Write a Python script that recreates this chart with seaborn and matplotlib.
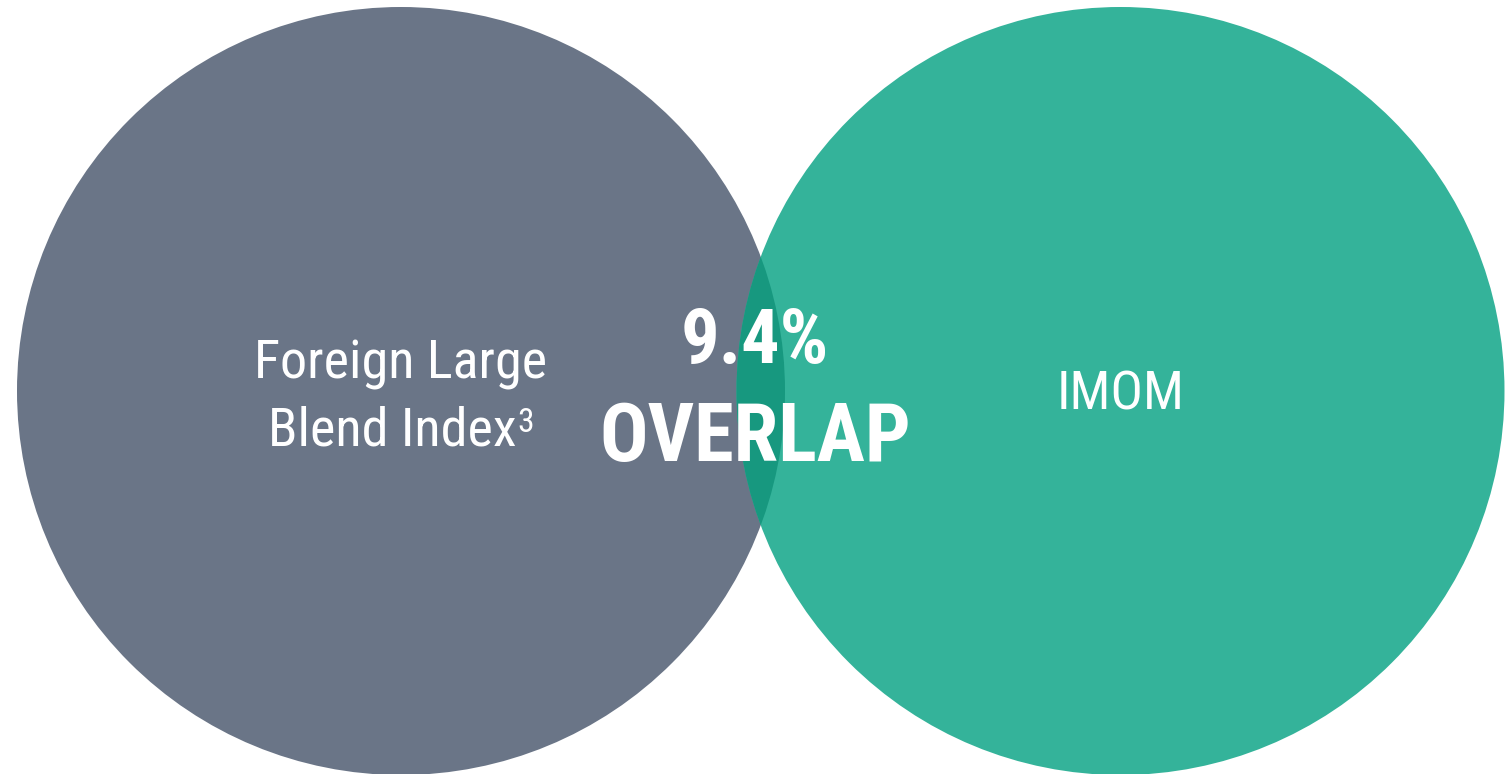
import matplotlib
matplotlib.use("Agg")
import matplotlib.pyplot as plt
from matplotlib import font_manager
from matplotlib.patches import Circle
import seaborn as sns

# ---- data ----
set_lines = [["Foreign Large", "Blend Index"], ["IMOM"]]
set_footnotes = ["3", ""]
set_colors = ["#6a7587", "#34b39a"]
overlap_color = "#17987f"
overlap_pct = 9.4
overlap_label = "OVERLAP"

sns.set_theme(style="white")

def pick_font(cands):
    for c in cands:
        try:
            font_manager.findfont(font_manager.FontProperties(family=c), fallback_to_default=False)
            return c
        except Exception:
            continue
    return "DejaVu Sans"

cond = pick_font(["Roboto Condensed", "Liberation Sans Narrow", "Roboto"])
plt.rcParams["font.family"] = [cond, "DejaVu Sans"]

W, H = 1509, 774
fig = plt.figure(figsize=(W / 100, H / 100), dpi=100)
ax = fig.add_axes([0, 0, 1, 1])
ax.set_xlim(0, W)
ax.set_ylim(H, 0)
ax.set_aspect("equal")
ax.axis("off")

r = 384
cy = 391
centers = [401, 1120.5]

left = Circle((centers[0], cy), r, facecolor=set_colors[0], edgecolor="none", zorder=1)
right = Circle((centers[1], cy), r, facecolor=set_colors[1], edgecolor="none", zorder=2)
ax.add_patch(left)
ax.add_patch(right)
lens = Circle((centers[0], cy), r, facecolor=overlap_color, edgecolor="none", zorder=3)
ax.add_patch(lens)
lens.set_clip_path(right)

# left set label
ax.text(centers[0], 379, set_lines[0][0], color="white", fontsize=39, ha="center",
        va="baseline", zorder=5)
t2 = ax.text(centers[0] - 9, 446, set_lines[0][1], color="white", fontsize=39, ha="center",
             va="baseline", zorder=5)
ax.annotate(set_footnotes[0], xy=(1, 1), xycoords=t2, xytext=(0.5, -0.5), textcoords="offset points",
            color="white", fontsize=24, ha="left", va="top", zorder=5)

# right set label
ax.text(centers[1], 410, set_lines[1][0], color="white", fontsize=39, ha="center",
        va="baseline", zorder=5)

# overlap
ax.text(755, 363, f"{overlap_pct}%", color="white", fontsize=55, fontweight="bold",
        ha="center", va="baseline", zorder=5)
ax.text(755, 461, overlap_label, color="white", fontsize=58, fontweight="bold",
        ha="center", va="baseline", zorder=5)

fig.savefig("out.png", dpi=100, facecolor="white")
